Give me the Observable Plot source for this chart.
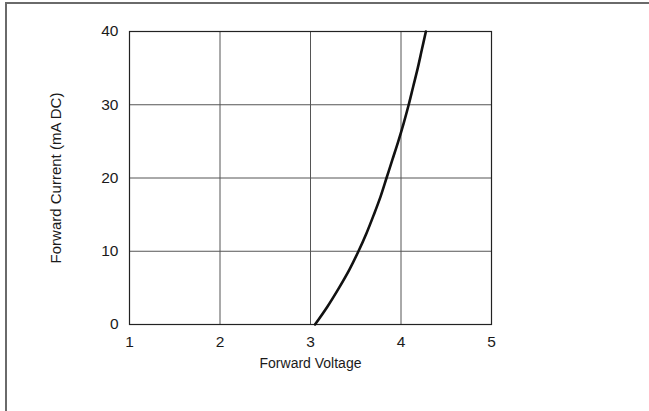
<!DOCTYPE html>
<html>
<head>
<meta charset="utf-8">
<script src="https://cdn.jsdelivr.net/npm/d3@7"></script>
<script src="https://cdn.jsdelivr.net/npm/@observablehq/plot@0.6"></script>
<style>
  html, body { margin: 0; padding: 0; background: #fff; }
  #frame {
    position: relative;
    width: 649px; height: 411px; overflow: hidden;
  }
  #border {
    position: absolute; left: 5px; top: 2px; width: 660px; height: 440px;
    border-left: 2px solid #6a6a6a; border-top: 2px solid #6a6a6a;
    box-sizing: border-box; pointer-events: none;
  }
  #chart { position: absolute; left: 0; top: 0; }
  #chart svg text { font-family: 'Liberation Sans', Arial, Helvetica, sans-serif; fill: #1a1a1a; }
  #chart svg g[aria-label="x-axis tick label"],
  #chart svg g[aria-label="y-axis tick label"] { font-size: 15.5px; }
  #chart svg g[aria-label="x-axis label"] { font-size: 14px; }
  #chart svg g[aria-label="y-axis label"] { font-size: 15px; }
</style>
</head>
<body>
<div id="frame"><div id="chart"></div><div id="border"></div></div>
<script>
// Forward voltage (V) vs forward current (mA DC)
const current = [0, 2.5, 5, 7.5, 10, 12.5, 15, 17.5, 20, 22.5, 25, 27.5, 30, 32.5, 35, 37.5, 40];
const voltage = [3.05, 3.19, 3.315, 3.43, 3.53, 3.62, 3.70, 3.775, 3.84, 3.905, 3.97, 4.03, 4.085, 4.135, 4.185, 4.23, 4.275];
const xTicks = [1, 2, 3, 4, 5];
const yTicks = [0, 10, 20, 30, 40];

const data = current.map((c, i) => ({V: voltage[i], I: c}));

const chart = Plot.plot({
  width: 649,
  height: 411,
  marginLeft: 129,
  marginRight: 158,
  marginTop: 31,
  marginBottom: 87,
  style: {background: "transparent", color: "#1a1a1a"},
  x: {domain: [1, 5]},
  y: {domain: [0, 40]},
  marks: [
    Plot.gridX(xTicks, {stroke: "#555", strokeOpacity: 1, strokeWidth: 1}),
    Plot.gridY(yTicks, {stroke: "#555", strokeOpacity: 1, strokeWidth: 1}),
    Plot.frame({stroke: "#222", strokeWidth: 1.2}),
    Plot.axisX(xTicks, {tickSize: 0, tickPadding: 11, label: "Forward Voltage", labelAnchor: "center", labelArrow: "none", labelOffset: 43}),
    Plot.axisY(yTicks, {tickSize: 0, tickPadding: 11, label: "Forward Current (mA DC)", labelAnchor: "center", labelArrow: "none", labelOffset: 79}),
    Plot.line(data, {x: "V", y: "I", stroke: "#111", strokeWidth: 2.6, curve: "catmull-rom"})
  ]
});
document.getElementById("chart").appendChild(chart);
</script>
</body>
</html>
